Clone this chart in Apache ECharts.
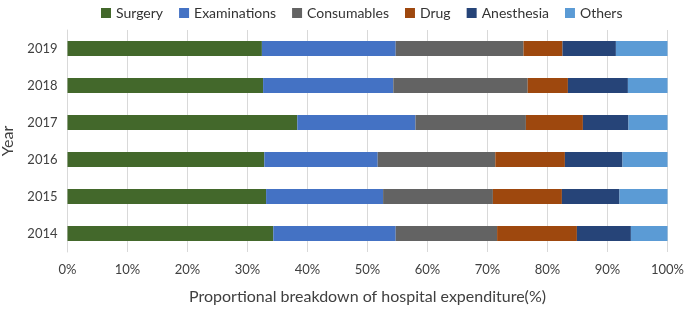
<!DOCTYPE html>
<html><head><meta charset="utf-8">
<script src="https://cdn.jsdelivr.net/npm/echarts@6/dist/echarts.min.js"></script>
<style>html,body{margin:0;padding:0;background:#fff}#c{width:685px;height:310px}</style>
</head><body><div id="c"></div>
<script>
const years = ['2014','2015','2016','2017','2018','2019'];
const surgery      = [34.3, 33.1, 32.8, 38.3, 32.6, 32.4];
const examinations = [20.4, 19.5, 18.9, 19.7, 21.7, 22.3];
const consumables  = [16.9, 18.3, 19.6, 18.4, 22.4, 21.3];
const drug         = [13.3, 11.5, 11.6,  9.5,  6.7,  6.5];
const anesthesia   = [ 9.0,  9.6,  9.6,  7.6, 10.0,  8.9];
const others       = [ 6.1,  8.0,  7.5,  6.5,  6.6,  8.6];
const xTicks = [0,10,20,30,40,50,60,70,80,90,100];

const seriesDefs = [
  ['Surgery', surgery, '#43682B'],
  ['Examinations', examinations, '#4472C4'],
  ['Consumables', consumables, '#636363'],
  ['Drug', drug, '#9E480E'],
  ['Anesthesia', anesthesia, '#264478'],
  ['Others', others, '#5B9BD5']
];
const font = 'Lato, "Open Sans", sans-serif';
const chart = echarts.init(document.getElementById('c'), null, {renderer:'canvas'});
chart.setOption({
  animation:false,
  textStyle:{fontFamily:font},
  legend:{top:1,left:96,itemWidth:10,itemHeight:10,itemGap:16,icon:'rect',
    textStyle:{fontSize:14,color:'#333',fontFamily:font}},
  grid:{left:67.5,right:17.5,top:30,bottom:58,containLabel:false,outerBoundsMode:'none'},
  xAxis:{type:'value',min:0,max:100,interval:10,
    axisLabel:{formatter:v=>v+'%',fontSize:13,color:'#404040',margin:11,fontFamily:font},
    axisLine:{show:false},axisTick:{show:false},
    splitLine:{lineStyle:{color:'#d9d9d9'}},
    name:'Proportional breakdown of hospital expenditure(%)',nameLocation:'middle',nameGap:37,
    nameTextStyle:{fontSize:16,color:'#404040',fontFamily:font}},
  yAxis:{type:'category',data:years,
    axisLabel:{fontSize:13,color:'#404040',margin:10,fontFamily:font},
    axisLine:{show:true,lineStyle:{color:'#d9d9d9'}},axisTick:{show:false},
    name:'Year',nameLocation:'middle',nameGap:52,nameRotate:90,
    nameTextStyle:{fontSize:16,color:'#404040',fontFamily:font}},
  series:seriesDefs.map(([n,d,c])=>({name:n,type:'bar',stack:'t',data:d,barWidth:15,
    itemStyle:{color:c}}))
});
</script></body></html>
